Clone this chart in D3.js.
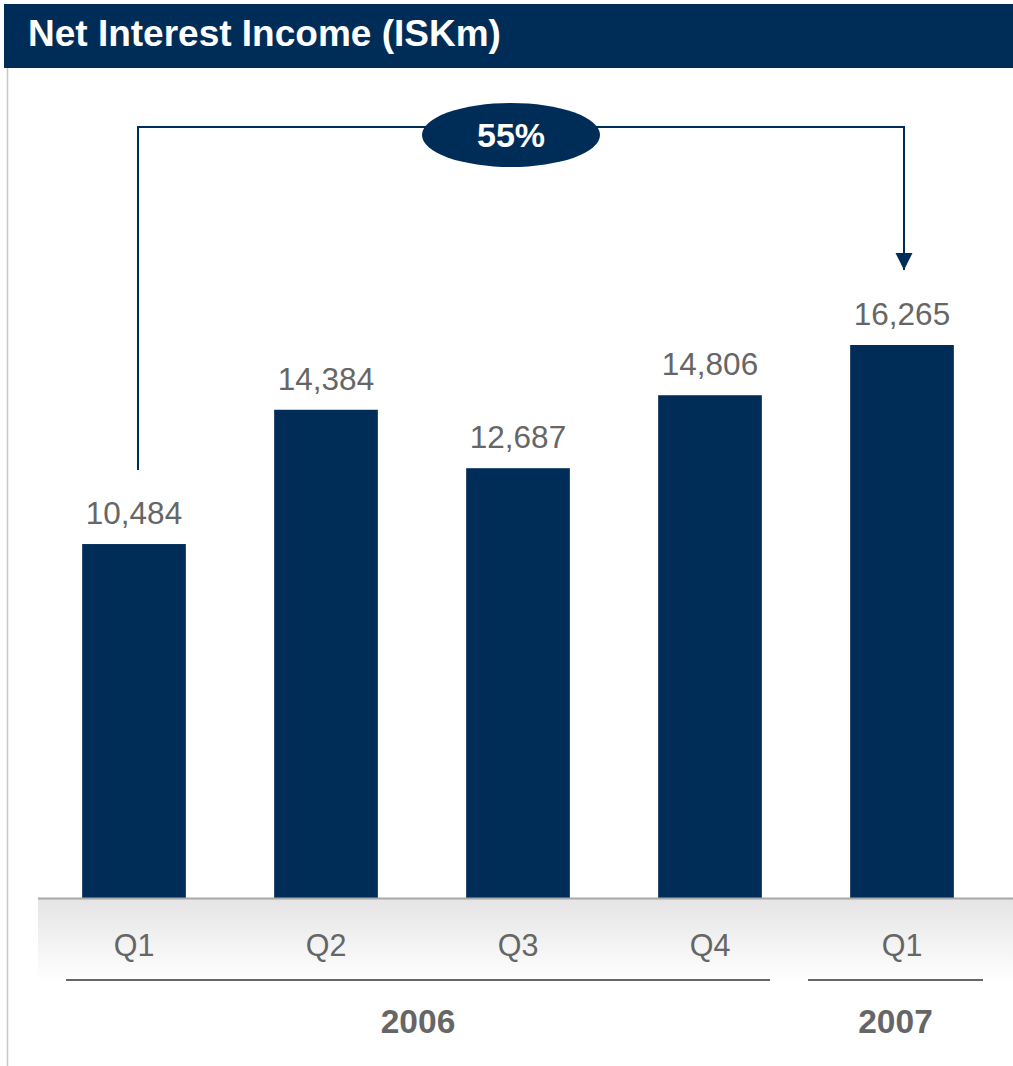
<!DOCTYPE html>
<html>
<head>
<meta charset="utf-8">
<script src="https://cdn.jsdelivr.net/npm/d3@7"></script>
<style>
  html, body { margin: 0; padding: 0; background: #fff; }
  svg { display: block; }
</style>
</head>
<body>
<svg id="chart" width="1013" height="1066"></svg>
<script>
// Net interest income by quarter, ISK millions
const quarters = ["Q1", "Q2", "Q3", "Q4", "Q1"];
const years = ["2006", "2006", "2006", "2006", "2007"];
const values = [10484, 14384, 12687, 14806, 16265];
const growthLabel = "55%";
const title = "Net Interest Income (ISKm)";

const navy = "#002D57";
const grey = "#666666";
const fontFam = "'Liberation Sans', Arial, sans-serif";

const svg = d3.select("#chart");
const defs = svg.append("defs");

// Title banner
svg.append("rect").attr("x", 4).attr("y", 4).attr("width", 1009).attr("height", 64).attr("fill", navy);
svg.append("text").attr("x", 28).attr("y", 46)
  .attr("fill", "#fff").attr("font-family", fontFam).attr("font-weight", "bold")
  .attr("font-size", 37).text(title);

// Thin frame line on the left
svg.append("line").attr("x1", 7.5).attr("x2", 7.5).attr("y1", 68).attr("y2", 1066)
  .attr("stroke", "#c8c8c8").attr("stroke-width", 1.5);

// Scales
const idx = d3.range(values.length);
const x = d3.scaleBand().domain(idx).range([38, 998]).paddingInner(0.46).paddingOuter(0.23);
const y = d3.scaleLinear().domain([0, 16265]).range([905, 345]);
const cx = i => x(i) + x.bandwidth() / 2;

// Bars
svg.append("g").selectAll("rect").data(idx).join("rect")
  .attr("x", i => x(i)).attr("width", x.bandwidth())
  .attr("y", i => y(values[i])).attr("height", i => y(0) - y(values[i]))
  .attr("fill", navy);

// Value labels
svg.append("g").selectAll("text").data(idx).join("text")
  .attr("x", cx)
  .attr("y", i => y(values[i]) - 20)
  .attr("text-anchor", "middle").attr("fill", grey)
  .attr("font-family", fontFam).attr("font-size", 31.5)
  .text(i => d3.format(",")(values[i]));

// Category band with gradient
const grad = defs.append("linearGradient").attr("id", "band").attr("x1", 0).attr("x2", 0).attr("y1", 0).attr("y2", 1);
grad.append("stop").attr("offset", "0%").attr("stop-color", "#e4e4e4");
grad.append("stop").attr("offset", "100%").attr("stop-color", "#ffffff");
svg.append("rect").attr("x", 38).attr("y", 898).attr("width", 975).attr("height", 84).attr("fill", "url(#band)");
svg.append("line").attr("x1", 38).attr("x2", 1013).attr("y1", 898.5).attr("y2", 898.5)
  .attr("stroke", "#a8a8a8").attr("stroke-width", 2);

// Quarter labels
svg.append("g").selectAll("text").data(idx).join("text")
  .attr("x", cx)
  .attr("y", 956)
  .attr("text-anchor", "middle").attr("fill", grey)
  .attr("font-family", fontFam).attr("font-size", 30.5)
  .text(i => quarters[i]);

// Year groups with underline
const yearGroups = d3.groups(idx, i => years[i]);
const yearLayout = { "2006": [66, 770], "2007": [808, 983] };
yearGroups.forEach(([yr]) => {
  const [a, b] = yearLayout[yr];
  svg.append("line").attr("x1", a).attr("x2", b).attr("y1", 980).attr("y2", 980)
    .attr("stroke", grey).attr("stroke-width", 2);
  svg.append("text").attr("x", (a + b) / 2)
    .attr("y", 1033).attr("text-anchor", "middle").attr("fill", grey)
    .attr("font-family", fontFam).attr("font-weight", "bold").attr("font-size", 33.5)
    .text(yr);
});

// Growth connector from first to last bar
const x0 = cx(0) + 4;
const x1 = cx(values.length - 1) + 2;
const topY = 127;
defs.append("marker").attr("id", "arrow").attr("viewBox", "0 0 10 10")
  .attr("refX", 10).attr("refY", 5).attr("markerWidth", 17).attr("markerHeight", 18)
  .attr("markerUnits", "userSpaceOnUse").attr("orient", "auto")
  .append("path").attr("d", "M0,0 L10,5 L0,10 Z").attr("fill", navy);
svg.append("path")
  .attr("d", `M${x0},${y(values[0]) - 74} V${topY} H${x1} V${y(values[values.length - 1]) - 75}`)
  .attr("fill", "none").attr("stroke", navy).attr("stroke-width", 2)
  .attr("marker-end", "url(#arrow)");

// Growth badge
svg.append("ellipse").attr("cx", 511).attr("cy", 135).attr("rx", 89).attr("ry", 32).attr("fill", navy);
svg.append("text").attr("x", 511).attr("y", 147).attr("text-anchor", "middle")
  .attr("fill", "#fff").attr("font-family", fontFam).attr("font-weight", "bold")
  .attr("font-size", 34).text(growthLabel);
</script>
</body>
</html>
